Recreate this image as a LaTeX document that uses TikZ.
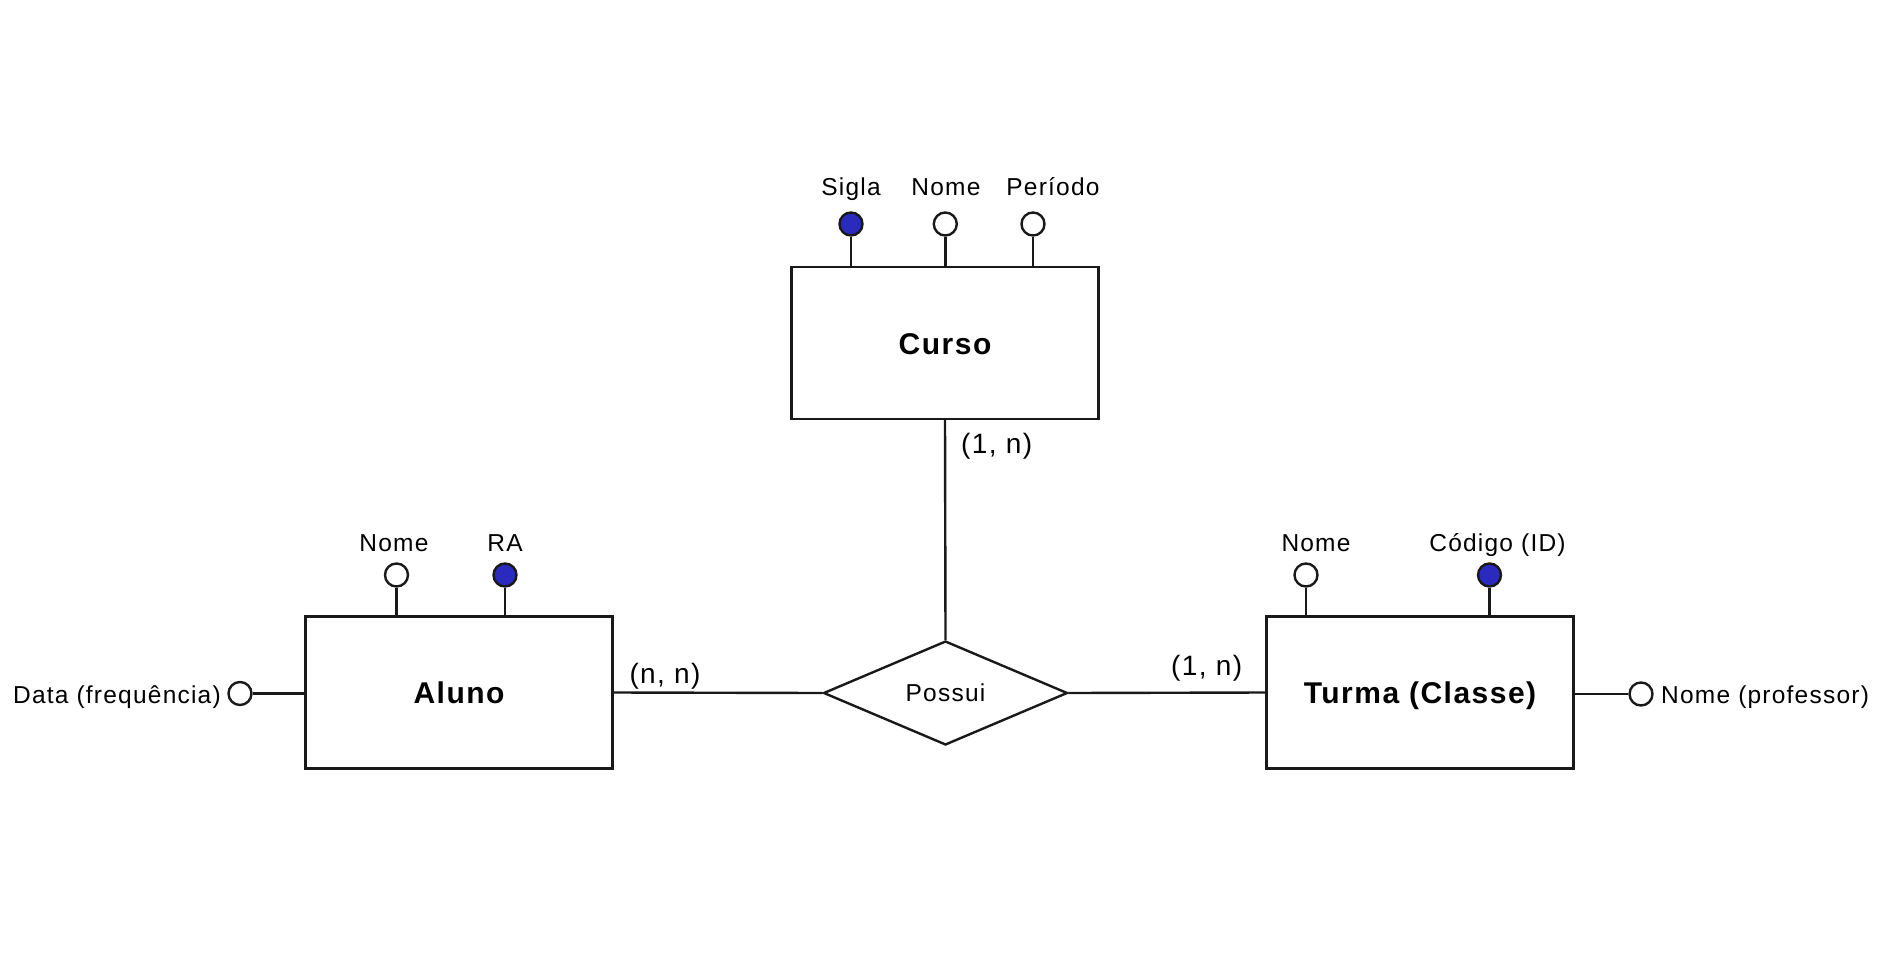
\documentclass[tikz,border=0pt]{standalone}
\usepackage{fontspec}
\setmainfont{Liberation Sans}[LetterSpace=5]
\usetikzlibrary{shapes.geometric}
\definecolor{keyblue}{RGB}{42,42,190}
\tikzset{
  line/.style={line width=2.4pt, draw=black!90},
  entity/.style={line, rectangle, fill=white, minimum width=307pt, minimum height=152pt, inner sep=0pt,
     text height=22pt, text depth=0pt, font=\fontsize{30}{34}\selectfont\bfseries},
  rel/.style={line, diamond, aspect=2.35, inner sep=0pt, minimum width=244pt, minimum height=104pt,
     font=\fontsize{24.5}{28}\selectfont},
  attr/.style={line, circle, fill=white, minimum size=23pt, inner sep=0pt},
  keyattr/.style={attr, fill=keyblue},
  lbl/.style={inner sep=0pt, font=\fontsize{24.5}{28}\selectfont},
  card/.style={inner sep=0pt, font=\fontsize{28}{32}\selectfont},
}
\begin{document}
\begin{tikzpicture}[x=1pt, y=-1pt]
\useasboundingbox (0,0) rectangle (1881,955);

% entities
\node[entity] (curso) at (945,343) {Curso};
\node[entity] (aluno) at (459,692.5) {Aluno};
\node[entity] (turma) at (1420,692.5) {Turma (Classe)};
\node[rel] (possui) at (945.5,693) {Possui};

% relationship connectors
\draw[line] (curso.south) -- (possui.north);
\draw[line] (aluno.east) -- (possui.west);
\draw[line] (possui.east) -- (turma.west);

% Curso attributes
\node[keyattr] (csigla) at (851,224) {};
\node[attr] (cnome) at (945.3,224) {};
\node[attr] (cper) at (1033,224) {};
\draw[line] (csigla.south) -- (csigla |- curso.north);
\draw[line] (cnome.south) -- (cnome |- curso.north);
\draw[line] (cper.south) -- (cper |- curso.north);
\node[lbl, anchor=base] (lsigla) at (851,195) {Sigla};
\node[lbl, anchor=base] (lcnome) at (946,195) {Nome};
\node[lbl, anchor=base] (lcper) at (1053,195) {Período};

% Aluno attributes
\node[attr] (anome) at (396.5,575) {};
\node[keyattr] (ara) at (505,575) {};
\draw[line] (anome.south) -- (anome |- aluno.north);
\draw[line] (ara.south) -- (ara |- aluno.north);
\node[lbl, anchor=base] (lanome) at (394,551.5) {Nome};
\node[lbl, anchor=base] (lara) at (505,551.5) {RA};
\node[attr] (adata) at (240,693.5) {};
\draw[line] (adata.east) -- (adata -| aluno.west);
\node[lbl, anchor=base east] (ladata) at (221,703) {Data (frequência)};

% Turma attributes
\node[attr] (tnome) at (1306,575) {};
\node[keyattr] (tcod) at (1489.5,575) {};
\draw[line] (tnome.south) -- (tnome |- turma.north);
\draw[line] (tcod.south) -- (tcod |- turma.north);
\node[lbl, anchor=base] (ltnome) at (1316,551.5) {Nome};
\node[lbl, anchor=base] (ltcod) at (1497.5,551.5) {Código (ID)};
\node[attr] (tprof) at (1641,694) {};
\draw[line] (tprof.west) -- (tprof -| turma.east);
\node[lbl, anchor=base west] (ltprof) at (1661,703) {Nome (professor)};

% cardinalities
\node[card] (c1) at (996.7,446.7) {(1, n)};
\node[card] (c2) at (665,676.7) {(n, n)};
\node[card] (c3) at (1206.7,668) {(1, n)};
\end{tikzpicture}
\end{document}
